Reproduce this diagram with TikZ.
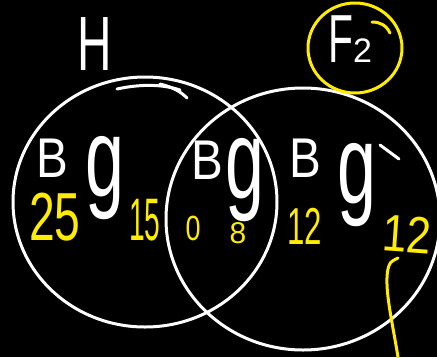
\documentclass[tikz,border=0pt]{standalone}
\usepackage{fontspec}
\setmainfont{Liberation Sans}
\usepackage{graphicx}
\definecolor{marker}{RGB}{255,236,0}
\newcommand{\tallg}{\scalebox{1}[1.6]{g}}
\newcommand{\fs}[1]{\fontsize{#1}{#1}\selectfont}
\newcommand{\narrow}[2]{\scalebox{#1}[1]{#2}}

\begin{document}
\begin{tikzpicture}[x=1pt, y=-1pt, line cap=round, line join=round,
  chalk/.style={white, line width=3pt},
  hilite/.style={marker, line width=3pt},
  letter/.style={white, inner sep=0pt, font=\fs{56}},
  gletter/.style={white, inner sep=0pt, font=\fs{70}},
  count/.style={marker, inner sep=0pt}]

% --- Board (sets the page size) ---
\fill[black] (0,0) rectangle (437,357);
\useasboundingbox (0,0) rectangle (437,357);

% --- Parameters ---
\def\rxA{132pt}  % left set, half-width
\def\ryA{125pt}  % left set, half-height
\def\rxB{137pt}  % right set, half-width
\def\ryB{131pt}  % right set, half-height

% --- The two sets ---
\draw[chalk] (145,202) ellipse [x radius=\rxA, y radius=\ryA];
\draw[chalk] (303,219) ellipse [x radius=\rxB, y radius=\ryB];

% --- Stroke ends left by the pen ---
\draw[chalk] (117,89) .. controls (140,84) and (162,84) .. (180,90);
\draw[chalk] (160,84) .. controls (172,87) and (180,91) .. (187,98);
\draw[chalk] (380,145) -- (399,159);

% --- Set names ---
\node[white, inner sep=0pt, font=\fs{77}] (nameH) at (95,44) {\narrow{0.62}{H}};
\node[white, inner sep=0pt, anchor=base] (nameF) at (350,62)
  {{\fs{68}\narrow{0.6}{F}}{\fs{34}2}};
\draw[hilite] (355,48) ellipse [x radius=47pt, y radius=45pt];
\draw[hilite] (372,22) .. controls (380,22) and (386,25) .. (390,33);

% --- Left only ---
\node[letter]  (boysA)  at (52,158)  {\narrow{0.85}{B}};
\node[gletter] (girlsA) at (105,178) {\tallg};
\node[count, font=\fs{68}] (nA1) at (55,217)  {\narrow{0.68}{25}};
\node[count, font=\fs{60}] (nA2) at (145,220) {\narrow{0.47}{15}};

% --- Both ---
\node[letter]  (boysAB)  at (207,160) {\narrow{0.85}{B}};
\node[gletter] (girlsAB) at (245,180) {\tallg};
\node[count, font=\fs{35}] (nAB1) at (193,228) {\narrow{0.77}{0}};
\node[count, font=\fs{30}] (nAB2) at (238,233) {8};

% --- Right only ---
\node[letter]  (boysB)  at (305,158) {\narrow{0.85}{B}};
\node[gletter] (girlsB) at (357,185) {\tallg};
\node[count, font=\fs{52}] (nB1) at (305,226) {\narrow{0.6}{12}};
\node[count, font=\fs{52}, rotate=-4] (nB2) at (407,234) {\narrow{0.85}{12}};

% --- Pointer from the last count ---
\coordinate (tipB)  at (398,258);
\coordinate (tailB) at (398,357);
\draw[hilite] (tailB) .. controls (392,320) and (384,288) .. (388,269)
  .. controls (390,262) .. (tipB);

\end{tikzpicture}
\end{document}
